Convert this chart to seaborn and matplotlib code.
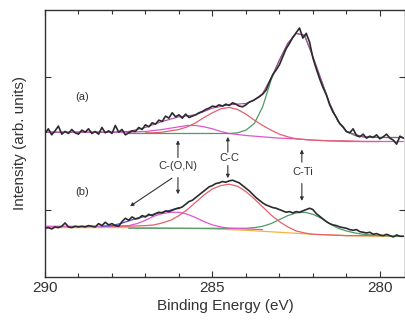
import numpy as np
import pandas as pd
import seaborn as sns
import matplotlib.pyplot as plt
from matplotlib.ticker import MultipleLocator

sns.set_style('ticks')
plt.rcParams['font.family'] = ['Liberation Sans', 'DejaVu Sans']

# energy channels of the spectrometer, 0.1 eV step
energy = np.round(np.arange(290.0, 279.25, -0.1), 1)

# spectrum (a)
spec_a = [2.15, 2.22, 2.13, 2.19, 2.26, 2.14, 2.18, 2.15, 2.21, 2.16,
          2.14, 2.20, 2.17, 2.22, 2.15, 2.18, 2.14, 2.24, 2.16, 2.19,
          2.15, 2.27, 2.17, 2.21, 2.13, 2.16, 2.19, 2.18, 2.24, 2.21,
          2.28, 2.25, 2.31, 2.29, 2.35, 2.33, 2.41, 2.38, 2.46, 2.40,
          2.43, 2.38, 2.44, 2.39, 2.41, 2.43, 2.46, 2.48, 2.51, 2.53,
          2.56, 2.55, 2.58, 2.56, 2.59, 2.57, 2.61, 2.59, 2.56, 2.55,
          2.58, 2.62, 2.64, 2.67, 2.70, 2.74, 2.80, 2.92, 3.03, 3.10,
          3.18, 3.30, 3.42, 3.50, 3.59, 3.66, 3.73, 3.58, 3.65, 3.52,
          3.28, 3.12, 2.97, 2.84, 2.73, 2.58, 2.47, 2.39, 2.30, 2.25,
          2.18, 2.16, 2.22, 2.12, 2.10, 2.14, 2.08, 2.11, 2.09, 2.13,
          2.07, 2.10, 2.14, 2.08, 2.05, 1.99, 2.11, 2.08]

# spectrum (b)
spec_b = [0.73, 0.74, 0.72, 0.75, 0.74, 0.76, 0.81, 0.75, 0.74, 0.76,
          0.75, 0.76, 0.75, 0.77, 0.76, 0.75, 0.80, 0.77, 0.82, 0.78,
          0.80, 0.77, 0.76, 0.83, 0.88, 0.85, 0.90, 0.87, 0.88, 0.92,
          0.90, 0.94, 0.92, 0.95, 0.97, 0.96, 0.99, 0.98, 1.00, 1.02,
          1.03, 1.05, 1.09, 1.13, 1.15, 1.19, 1.23, 1.27, 1.31, 1.35,
          1.37, 1.40, 1.41, 1.43, 1.42, 1.44, 1.45, 1.43, 1.41, 1.37,
          1.33, 1.29, 1.24, 1.19, 1.15, 1.11, 1.08, 1.06, 1.04, 1.03,
          1.01, 0.99, 0.97, 0.98, 0.96, 0.98, 0.97, 0.99, 1.01, 1.03,
          1.01, 0.95, 0.91, 0.87, 0.83, 0.80, 0.78, 0.77, 0.75, 0.74,
          0.73, 0.71, 0.70, 0.71, 0.68, 0.67, 0.66, 0.67, 0.64, 0.65,
          0.63, 0.62, 0.64, 0.62, 0.60, 0.63, 0.61, 0.61]

# fitted components of (a)
a_env_e = [290.0, 288.0, 287.5, 287.0, 286.5, 286.0, 285.5, 285.0, 284.5, 284.0, 283.75,
           283.5, 283.25, 283.0, 282.75, 282.5, 282.25, 282.0, 281.75, 281.5, 281.25,
           281.0, 280.5, 280.0, 279.3]
a_env = [2.17, 2.17, 2.18, 2.24, 2.33, 2.40, 2.43, 2.53, 2.58, 2.60, 2.65,
         2.75, 2.98, 3.25, 3.50, 3.65, 3.62, 3.30, 2.95, 2.60, 2.33,
         2.18, 2.10, 2.09, 2.09]
a_ti_e = [287.5, 286.0, 284.5, 284.25, 284.0, 283.75, 283.5, 283.25, 283.0, 282.75, 282.5,
          282.25, 282.0, 281.75, 281.5, 281.25, 281.0, 280.75, 280.5, 280.0, 279.3]
a_ti = [2.15, 2.15, 2.15, 2.16, 2.20, 2.30, 2.55, 2.95, 3.25, 3.50, 3.65,
        3.62, 3.30, 2.95, 2.60, 2.33, 2.18, 2.12, 2.10, 2.09, 2.09]
a_cc_e = [287.0, 286.75, 286.5, 286.25, 286.0, 285.75, 285.5, 285.25, 285.0, 284.75, 284.5,
          284.25, 284.0, 283.75, 283.5, 283.25, 283.0, 282.75, 282.5, 282.0, 281.5,
          281.0, 280.5, 280.0]
a_cc = [2.16, 2.16, 2.17, 2.19, 2.21, 2.25, 2.31, 2.39, 2.46, 2.52, 2.54,
        2.51, 2.44, 2.35, 2.27, 2.20, 2.14, 2.10, 2.07, 2.05, 2.04,
        2.04, 2.03, 2.03]
a_con_e = [290.0, 287.5, 287.0, 286.5, 286.0, 285.75, 285.5, 285.25, 285.0, 284.75, 284.5,
           284.0, 283.5, 283.0, 282.5, 282.0, 281.5, 281.0, 280.0, 279.3]
a_con = [2.17, 2.17, 2.18, 2.21, 2.25, 2.27, 2.27, 2.25, 2.22, 2.18, 2.15,
         2.12, 2.10, 2.08, 2.07, 2.05, 2.04, 2.03, 2.03, 2.03]

# fitted components of (b)
b_env_e = [288.3, 288.0, 287.75, 287.5, 287.25, 287.0, 286.75, 286.5, 286.25, 286.0]
b_env = [0.76, 0.77, 0.80, 0.84, 0.88, 0.91, 0.94, 0.97, 1.00, 1.04]
b_cc_e = [288.0, 287.5, 287.0, 286.75, 286.5, 286.25, 286.0, 285.75, 285.5, 285.25, 285.0,
          284.75, 284.5, 284.25, 284.0, 283.75, 283.5, 283.25, 283.0, 282.75, 282.5,
          282.25, 282.0, 281.5, 281.0, 280.5, 280.0]
b_cc = [0.76, 0.76, 0.77, 0.78, 0.81, 0.85, 0.92, 1.01, 1.12, 1.23, 1.32,
        1.37, 1.39, 1.36, 1.28, 1.17, 1.05, 0.93, 0.83, 0.75, 0.69,
        0.66, 0.64, 0.63, 0.62, 0.62, 0.62]
b_con_e = [290.0, 288.0, 287.5, 287.25, 287.0, 286.75, 286.5, 286.25, 286.0, 285.75, 285.5,
           285.25, 285.0, 284.75, 284.5, 284.0, 283.5]
b_con = [0.76, 0.76, 0.77, 0.80, 0.85, 0.91, 0.95, 0.97, 0.97, 0.94, 0.89,
         0.83, 0.78, 0.75, 0.73, 0.72, 0.71]
b_ti_e = [287.5, 285.0, 284.0, 283.75, 283.5, 283.25, 283.0, 282.75, 282.5, 282.25, 282.0,
          281.75, 281.5, 281.25, 281.0, 280.75, 280.5, 280.0, 279.5, 279.3]
b_ti = [0.73, 0.73, 0.73, 0.74, 0.76, 0.80, 0.86, 0.92, 0.96, 0.97, 0.94,
        0.88, 0.80, 0.73, 0.69, 0.66, 0.64, 0.62, 0.61, 0.61]
b_bg_e = [290.0, 288.0, 287.0, 286.0, 285.0, 284.0, 283.0, 282.0, 281.0, 280.0, 279.3]
b_bg = [0.74, 0.74, 0.74, 0.73, 0.72, 0.70, 0.67, 0.64, 0.62, 0.61, 0.61]

RED = '#e3606c'
MAG = '#e055cf'
GRN = '#4f9a68'
ORG = '#f2b440'
BLU = '#5a5ad2'
INK = '#2b2b2b'

fig = plt.figure(figsize=(4.05, 3.21), dpi=100)
ax = fig.add_axes([45 / 405, 44 / 321, 360 / 405, 267 / 321])

def line(e, y, color, lw=0.9, z=2):
    sns.lineplot(x=e, y=y, ax=ax, color=color, lw=lw, estimator=None, zorder=z)

line(b_bg_e, b_bg, ORG)
line(b_ti_e, b_ti, GRN)
line(b_con_e, b_con, MAG)
line(b_cc_e, b_cc, RED)
line(b_env_e, b_env, BLU, 1.0)
line(a_con_e, a_con, MAG)
line(a_cc_e, a_cc, RED)
line(a_ti_e, a_ti, GRN)
line(a_env_e, a_env, '#b048a8', 0.8)
line(energy, spec_a, INK, 1.2, 3)
line(energy, spec_b, INK, 1.2, 3)

ax.set_xlim(290, 279.25)
ax.set_ylim(0, 4)
ax.xaxis.set_major_locator(MultipleLocator(5))
ax.xaxis.set_minor_locator(MultipleLocator(1))
ax.set_yticks([1, 3])
ax.set_yticklabels([])
ax.tick_params(which='both', direction='in', top=True, right=True,
               colors='#333333', labelsize=11, length=4, width=0.8, pad=3)
ax.tick_params(which='minor', length=3)
for s in ax.spines.values():
    s.set_color('#333333')
    s.set_linewidth(1.0)

ax.set_xlabel('Binding Energy (eV)', fontsize=11, color='#333333', labelpad=3)
ax.set_ylabel('Intensity (arb. units)', fontsize=11, color='#333333', labelpad=10)

ax.text(288.9, 2.69, '(a)', fontsize=8, color='#333333', ha='center', va='center')
ax.text(288.9, 1.27, '(b)', fontsize=8, color='#333333', ha='center', va='center')

ax.text(286.03, 1.66, 'C-(O,N)', fontsize=8, color='#333333', ha='center', va='center')
ax.text(284.48, 1.78, 'C-C', fontsize=8, color='#333333', ha='center', va='center')
ax.text(282.30, 1.58, 'C-Ti', fontsize=8, color='#333333', ha='center', va='center')

arrows = [
    ((286.03, 1.79), (286.03, 2.05)),
    ((286.03, 1.49), (286.03, 1.24)),
    ((286.21, 1.48), (287.46, 1.06)),
    ((284.54, 1.87), (284.54, 2.10)),
    ((284.54, 1.67), (284.54, 1.48)),
    ((282.33, 1.72), (282.33, 1.91)),
    ((282.33, 1.40), (282.33, 1.14)),
]
for start, end in arrows:
    ax.annotate('', xy=end, xytext=start,
                arrowprops=dict(arrowstyle='-|>', color='#333333', lw=0.8,
                                mutation_scale=5, shrinkA=0, shrinkB=0))

fig.savefig('out.png', dpi=100)
